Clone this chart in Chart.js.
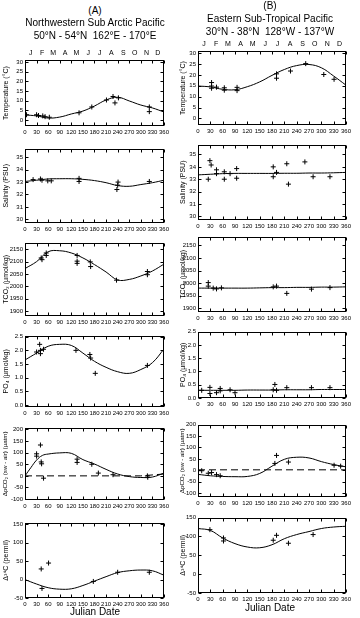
<!DOCTYPE html>
<html lang="en">
<head>
<meta charset="UTF-8" />
<title>Seasonal cycles - Sub Arctic vs Sub-Tropical Pacific</title>
<script src="https://cdn.jsdelivr.net/npm/chart.js"></script>
<style>
  html, body { margin: 0; padding: 0; background: #fff; font-family: "Liberation Sans", Arial, sans-serif; color: #000; }
  #page { position: relative; width: 360px; height: 618px; overflow: hidden; }
  .txt { position: absolute; z-index: 2; color: #000; text-align: center; white-space: nowrap; font-size: 10px; line-height: 12px; }
  canvas { position: absolute; z-index: 1; }
</style>
</head>
<body>
<div id="page">
  <div class="txt" style="left:20px;width:150px;top:5px">(A)</div>
  <div class="txt" style="left:10px;width:170px;top:17px">Northwestern Sub Arctic Pacific</div>
  <div class="txt" style="left:10px;width:170px;top:30px">50°N - 54°N&nbsp;&nbsp;162°E - 170°E</div>
  <div class="txt" style="left:195px;width:150px;top:0px">(B)</div>
  <div class="txt" style="left:185px;width:170px;top:13px">Eastern Sub-Tropical Pacific</div>
  <div class="txt" style="left:185px;width:170px;top:26px">30°N - 38°N&nbsp;&nbsp;128°W - 137°W</div>
  <div class="txt" style="left:20px;width:150px;top:606px">Julian Date</div>
  <div class="txt" style="left:195px;width:150px;top:602px">Julian Date</div>
</div>

<script>
  // axes
  const xTicks = [0, 30, 60, 90, 120, 150, 180, 210, 240, 270, 300, 330, 360];
  const monthLetters = ['J', 'F', 'M', 'A', 'M', 'J', 'J', 'A', 'S', 'O', 'N', 'D'];
  const monthMidDays = [15, 45, 74, 105, 135, 166, 196, 227, 258, 288, 319, 349];
  const fitDays = [0, 30, 60, 90, 120, 150, 180, 210, 240, 270, 300, 330, 360];

  const tempTicks = [0, 5, 10, 15, 20, 25, 30];
  const salTicks = [30, 31, 32, 33, 34, 35];
  const tco2Ticks = [1900, 1950, 2000, 2050, 2100, 2150];
  const po4Ticks = [0, 0.5, 1, 1.5, 2, 2.5];
  const pco2Ticks = [-100, -50, 0, 50, 100, 150, 200];
  const c14Ticks = [-50, 0, 50, 100, 150];

  // (A) Northwestern Sub Arctic Pacific
  const tempA_fit = [2.7, 2.2, 1.1, 1.6, 3.2, 4.7, 7.3, 10.4, 11.8, 9.9, 7.8, 6.3, 4.2];
  const tempA_obsDay = [4, 30, 35, 46, 52, 63, 140, 173, 211, 228, 233, 242, 322, 322];
  const tempA_obs = [2.8, 2.8, 2.4, 2.2, 1.8, 1.5, 3.8, 6.8, 10.4, 12.2, 8.9, 11.5, 6.8, 4.4];

  const salA_fit = [33.05, 33.15, 33.25, 33.27, 33.27, 33.22, 33.12, 32.95, 32.72, 32.66, 32.8, 32.95, 33.15];
  const salA_obsDay = [21, 40, 44, 59, 68, 140, 140, 241, 240, 238, 322];
  const salA_obs = [33.2, 33.25, 33.15, 33.1, 33.1, 33.3, 33.05, 33.0, 32.75, 32.4, 33.05];

  const tco2A_fit = [2072, 2100, 2140, 2144, 2135, 2115, 2088, 2058, 2026, 2028, 2042, 2062, 2090];
  const tco2A_obsDay = [42, 44, 55, 55, 135, 135, 135, 169, 170, 237, 317, 317];
  const tco2A_obs = [2115, 2108, 2135, 2125, 2125, 2102, 2093, 2099, 2080, 2025, 2060, 2047];

  const po4A_fit = [1.65, 1.9, 2.15, 2.22, 2.18, 1.9, 1.6, 1.38, 1.22, 1.16, 1.3, 1.55, 2.05];
  const po4A_obsDay = [30, 38, 40, 40, 48, 132, 168, 170, 182, 317];
  const po4A_obs = [1.94, 2.22, 2.0, 1.88, 2.04, 2.0, 1.85, 1.72, 1.16, 1.45];

  const pco2A_fitDays = [0, 15, 30, 45, 60, 90, 120, 150, 180, 210, 240, 270, 300, 330, 360];
  const pco2A_fit = [0, 35, 68, 88, 94, 99, 97, 70, 51, 28, 8, -3, -7, -5, 12];
  const pco2A_refDays = [0, 300, 360];
  const pco2A_ref = [0, 0, 8];
  const pco2A_obsDay = [30, 30, 40, 42, 43, 48, 135, 135, 173, 190, 228, 317, 318];
  const pco2A_obs = [85, 95, 133, 60, 52, -10, 72, 58, 50, 12, 5, 0, -6];

  const c14A_fit = [0, -12, -22, -26, -25, -16, -4, 8, 19, 24, 26, 24, 12];
  const c14A_obsDay = [42, 61, 44, 177, 240, 322];
  const c14A_obs = [29, 45, -24, -5, 20, 20];

  // (B) Eastern Sub-Tropical Pacific
  const tempB_fit = [14.9, 14.5, 13.4, 13.2, 14.6, 16.8, 19.8, 22.5, 24.3, 24.8, 23.3, 19.5, 15.3];
  const tempB_obsDay = [33, 33, 33, 45, 64, 64, 95, 95, 191, 191, 225, 262, 306, 331];
  const tempB_obs = [16.5, 14.9, 13.9, 14.4, 14.1, 13.0, 14.3, 12.8, 20.5, 18.5, 21.8, 25.2, 20.2, 18.0];

  const salB_fit = [33.35, 33.4, 33.45, 33.47, 33.47, 33.47, 33.47, 33.48, 33.48, 33.5, 33.5, 33.52, 33.55];
  const salB_obsDay = [25, 29, 32, 45, 45, 64, 64, 78, 94, 94, 183, 183, 191, 216, 220, 260, 280, 321];
  const salB_obs = [33.0, 34.5, 34.15, 33.76, 33.45, 33.6, 33.0, 33.45, 33.86, 33.08, 34.0, 33.2, 33.55, 34.25, 32.6, 34.4, 33.2, 33.2];

  const tco2B_fit = [1980, 1980, 1980, 1980, 1980, 1981, 1982, 1982, 1983, 1983, 1984, 1984, 1985];
  const tco2B_obsDay = [25, 25, 37, 45, 57, 183, 191, 216, 276, 321];
  const tco2B_obs = [2002, 1988, 1980, 1977, 1981, 1985, 1988, 1959, 1976, 1982];

  const po4B_fit = [0.29, 0.29, 0.29, 0.29, 0.3, 0.3, 0.3, 0.31, 0.31, 0.31, 0.32, 0.32, 0.32];
  const po4B_obsDay = [9, 29, 29, 45, 54, 54, 78, 90, 183, 187, 191, 216, 276, 321];
  const po4B_obs = [0.29, 0.4, 0.17, 0.2, 0.36, 0.27, 0.31, 0.2, 0.31, 0.51, 0.29, 0.39, 0.39, 0.39];

  const pco2B_fit = [-18, -24, -27, -28, -27, -14, 18, 48, 57, 54, 38, 25, 15];
  const pco2B_refDays = [0, 360];
  const pco2B_ref = [2, 2];
  const pco2B_obsDay = [9, 25, 33, 45, 54, 187, 191, 220, 331, 347];
  const pco2B_obs = [-2, -13, -10, -19, -24, 30, 65, 36, 22, 18];

  const c14B_fit = [121, 116, 96, 81, 72, 70, 78, 94, 105, 113, 121, 125, 127];
  const c14B_obsDay = [29, 62, 62, 183, 191, 220, 280];
  const c14B_obs = [118, 96, 88, 90, 103, 82, 105];

  const colA = { left: 0, width: 172, yAxisW: 25, padRight: 5, titlePad: 2 };
  const colB = { left: 173, width: 181, yAxisW: 25, padRight: 8, titlePad: 6 };

  const panelsA = [
    { top: 60, bottom: 126, min: -3, max: 31, ticks: tempTicks, title: 'Temperature (°C)', months: true,
      fit: tempA_fit, obsDay: tempA_obsDay, obs: tempA_obs },
    { top: 146, bottom: 223, min: 29.7, max: 35.7, ticks: salTicks, title: 'Salinity (PSU)',
      fit: salA_fit, obsDay: salA_obsDay, obs: salA_obs },
    { top: 240, bottom: 316, min: 1880, max: 2177, ticks: tco2Ticks, title: 'TCO₂ (µmol/kg)',
      fit: tco2A_fit, obsDay: tco2A_obsDay, obs: tco2A_obs },
    { top: 333, bottom: 407, min: -0.07, max: 2.54, ticks: po4Ticks, title: 'PO₄ (µmol/kg)', fixed: 1,
      fit: po4A_fit, obsDay: po4A_obsDay, obs: po4A_obs },
    { top: 425, bottom: 500, min: -104, max: 208, ticks: pco2Ticks, title: 'ΔpCO₂ (sw - air) (µatm)', small: true,
      fitDays: pco2A_fitDays, fit: pco2A_fit, obsDay: pco2A_obsDay, obs: pco2A_obs,
      refDays: pco2A_refDays, ref: pco2A_ref },
    { top: 520, bottom: 598, min: -50, max: 155, ticks: c14Ticks, title: 'Δ¹⁴C (permil)',
      fit: c14A_fit, obsDay: c14A_obsDay, obs: c14A_obs }
  ];

  const panelsB = [
    { top: 51, bottom: 125, min: -3, max: 31, ticks: tempTicks, title: 'Temperature (°C)', months: true,
      fit: tempB_fit, obsDay: tempB_obsDay, obs: tempB_obs },
    { top: 142, bottom: 220, min: 29.7, max: 35.8, ticks: salTicks, title: 'Salinity (PSU)',
      fit: salB_fit, obsDay: salB_obsDay, obs: salB_obs },
    { top: 234, bottom: 312, min: 1885, max: 2185, ticks: tco2Ticks, title: 'TCO₂ (µmol/kg)',
      fit: tco2B_fit, obsDay: tco2B_obsDay, obs: tco2B_obs },
    { top: 329, bottom: 398, min: 0, max: 2.5, ticks: po4Ticks, title: 'PO₄ (µmol/kg)', fixed: 1,
      fit: po4B_fit, obsDay: po4B_obsDay, obs: po4B_obs },
    { top: 422, bottom: 497, min: -117, max: 200, ticks: pco2Ticks, title: 'ΔpCO₂ (sw - air) (µatm)', small: true,
      fit: pco2B_fit, obsDay: pco2B_obsDay, obs: pco2B_obs,
      refDays: pco2B_refDays, ref: pco2B_ref },
    { top: 515, bottom: 593, min: -50, max: 150, ticks: c14Ticks, title: 'Δ¹⁴C (permil)',
      fit: c14B_fit, obsDay: c14B_obsDay, obs: c14B_obs }
  ];

  // box round the plot area, with small inward ticks like the original
  const framePlugin = {
    id: 'frame',
    afterDraw(chart) {
      const { ctx, chartArea: a, scales } = chart;
      const l = Math.round(a.left) + 0.5, r = Math.round(a.right) - 0.5;
      const t = Math.round(a.top) + 0.5, b = Math.round(a.bottom) - 0.5;
      ctx.save();
      ctx.strokeStyle = '#000';
      ctx.lineWidth = 1;
      ctx.strokeRect(l, t, r - l, b - t);
      ctx.beginPath();
      scales.x.ticks.forEach(tk => {
        const px = Math.round(scales.x.getPixelForValue(tk.value)) + 0.5;
        ctx.moveTo(px, b); ctx.lineTo(px, b - 3);
        ctx.moveTo(px, t); ctx.lineTo(px, t + 3);
      });
      scales.y.ticks.forEach(tk => {
        const py = Math.round(scales.y.getPixelForValue(tk.value)) + 0.5;
        ctx.moveTo(l, py); ctx.lineTo(l + 3, py);
        ctx.moveTo(r, py); ctx.lineTo(r - 3, py);
      });
      ctx.stroke();
      ctx.restore();
    }
  };

  const page = document.getElementById('page');
  const font = '"Liberation Sans", Arial, sans-serif';

  function pts(days, vals) {
    return days.map((d, i) => ({ x: d, y: vals[i] }));
  }

  function buildPanel(col, p) {
    const topH = p.months ? 12 : 0;
    const padTop = 3, xH = 11;
    const top = p.top - padTop - topH;
    const h = p.bottom - p.top + padTop + topH + xH;

    const cv = document.createElement('canvas');
    cv.width = col.width;
    cv.height = h;
    cv.style.left = col.left + 'px';
    cv.style.top = top + 'px';
    cv.style.width = col.width + 'px';
    cv.style.height = h + 'px';
    page.appendChild(cv);

    const datasets = [{
      type: 'line',
      data: pts(p.fitDays || fitDays, p.fit),
      borderColor: '#000',
      borderWidth: 1,
      pointRadius: 0,
      tension: 0.4
    }];
    if (p.ref) {
      datasets.push({
        type: 'line',
        data: pts(p.refDays, p.ref),
        borderColor: '#000',
        borderWidth: 1,
        borderDash: [7, 4],
        pointRadius: 0,
        tension: 0
      });
    }
    datasets.push({
      type: 'scatter',
      data: pts(p.obsDay, p.obs),
      pointStyle: 'cross',
      pointRadius: 2.5,
      borderColor: '#000',
      borderWidth: 1
    });

    const scales = {
      x: {
        type: 'linear', position: 'bottom', min: 0, max: 360,
        afterBuildTicks: sc => { sc.ticks = xTicks.map(v => ({ value: v })); },
        afterFit: sc => { sc.height = xH; },
        grid: { display: false, drawTicks: false },
        border: { display: false },
        ticks: { color: '#000', font: { family: font, size: 6 }, padding: 3, maxRotation: 0, autoSkip: false }
      },
      y: {
        type: 'linear', min: p.min, max: p.max,
        afterBuildTicks: sc => { sc.ticks = p.ticks.map(v => ({ value: v })); },
        afterFit: sc => { sc.width = col.yAxisW; },
        grid: { display: false, drawTicks: false },
        border: { display: false },
        ticks: {
          color: '#000', font: { family: font, size: 6 }, padding: 2,
          callback: v => p.fixed ? v.toFixed(p.fixed) : v
        },
        title: {
          display: true, text: p.title, color: '#000',
          font: { family: font, size: p.small ? 6.2 : 7 },
          padding: { top: col.titlePad, bottom: 0 }
        }
      }
    };
    if (p.months) {
      scales.x2 = {
        type: 'linear', position: 'top', min: 0, max: 365,
        afterBuildTicks: sc => { sc.ticks = monthMidDays.map(v => ({ value: v })); },
        afterFit: sc => { sc.height = topH; },
        grid: { display: false, drawTicks: false },
        border: { display: false },
        ticks: {
          color: '#000', font: { family: font, size: 7 }, padding: 3, maxRotation: 0, autoSkip: false,
          callback: (v, i) => monthLetters[i]
        }
      };
    }

    new Chart(cv, {
      type: 'line',
      data: { datasets },
      options: {
        responsive: false,
        animation: false,
        layout: { padding: { top: padTop, right: col.padRight, left: 0, bottom: 0 } },
        plugins: { legend: { display: false }, tooltip: { enabled: false } },
        scales
      },
      plugins: [framePlugin]
    });
  }

  panelsA.forEach(p => buildPanel(colA, p));
  panelsB.forEach(p => buildPanel(colB, p));
</script>
</body>
</html>
